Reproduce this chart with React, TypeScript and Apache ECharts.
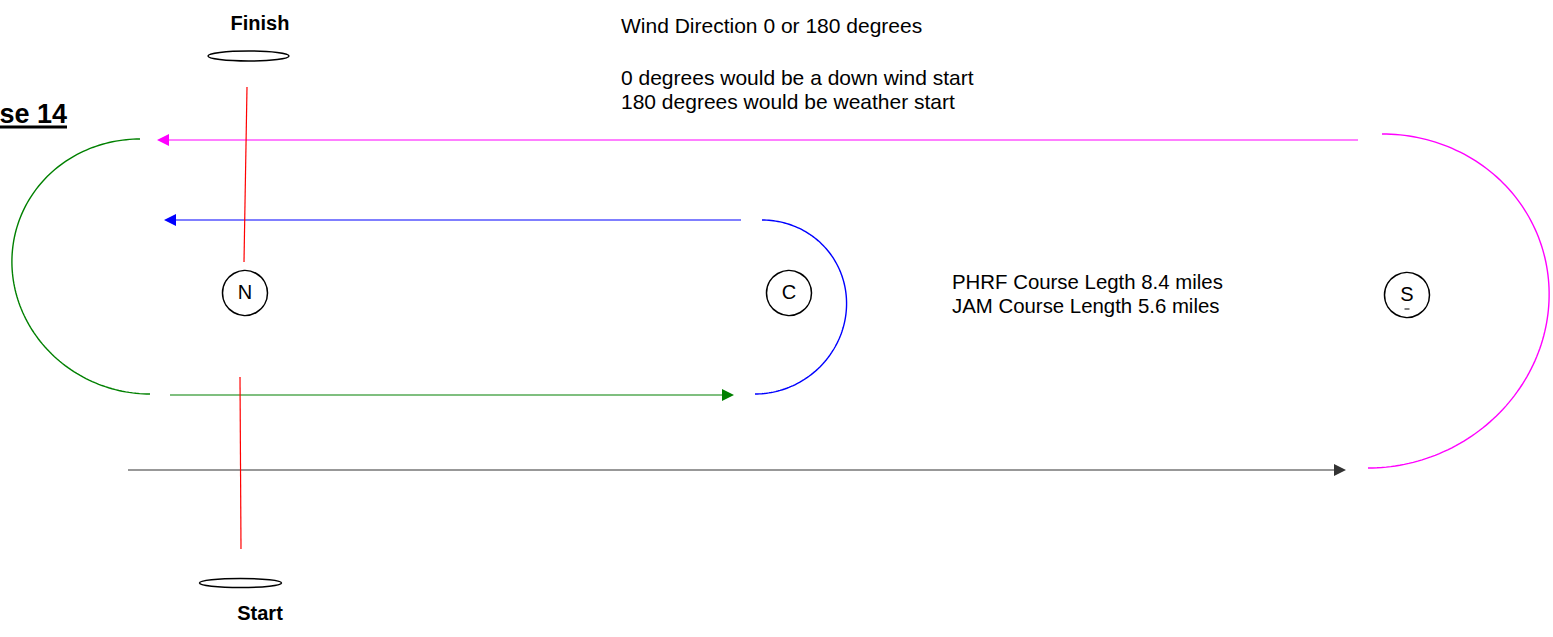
import React, { useEffect, useRef } from "react";
import * as echarts from "echarts";

const FONT = '"Liberation Sans", Arial, Helvetica, sans-serif';
const W = 1553;
const H = 637;

// ---- texts ----
const courseTitle = "se 14";
const courseTitleAnchor = [67, 114];
const windNotes = [
  "Wind Direction 0 or 180 degrees",
  "0 degrees would be a down wind start",
  "180 degrees would be weather start",
];
const windNoteAnchors = [
  [621, 25],
  [621, 77],
  [621, 101],
];
const lengthNotes = ["PHRF Course Legth 8.4 miles", "JAM Course Length 5.6 miles"];
const lengthNoteAnchors = [
  [952, 282],
  [952, 306],
];

// ---- marks (rounding buoys) ----
const markNames = ["N", "C", "S"];
const markCenters = [
  [245, 293],
  [789, 293],
  [1407, 295],
];
const markRadius = 22.5;

// ---- start / finish buoys ----
const buoyNames = ["Finish", "Start"];
const buoyCenters = [
  [248.5, 56],
  [240.5, 583],
];
const buoyRadii = [
  [40.5, 5],
  [41, 4.5],
];
const buoyLabelAnchors = [
  [260, 23],
  [260, 612.5],
];

// ---- start / finish lines (red) ----
const lineFrom = [
  [247, 87],
  [240, 377],
];
const lineTo = [
  [244, 262],
  [241, 549],
];

// ---- course legs (arrows) ----
const legFrom = [
  [1358, 140],
  [741, 220],
  [170, 395],
  [128, 470],
];
const legTo = [
  [157, 140],
  [164, 220],
  [734, 395],
  [1346, 470],
];
const legColors = ["#ff00ff", "#0000ff", "#008000", "#333333"];

// ---- roundings (half ellipses): centre, radii, span, skew ----
const arcCenters = [
  [145, 266.5],
  [758.5, 307],
  [1375, 301],
];
const arcRadii = [
  [133, 127.5],
  [88, 87],
  [174, 167],
];
const arcSpans = [
  [-90, -270],
  [-90, 90],
  [-90, 90],
];
const arcSkews = [-5, 3.5, 7];
const arcColors = ["#008000", "#0000ff", "#ff00ff"];

function buildOption(): any {
  const legSeries = {
    type: "custom",
    coordinateSystem: "cartesian2d",
    clip: false,
    silent: true,
    data: legFrom.map((f, i) => [f[0], f[1], legTo[i][0], legTo[i][1]]),
    encode: { x: [0, 2], y: [1, 3] },
    renderItem: (params: any, api: any) => {
      const color = legColors[params.dataIndex];
      const p0 = api.coord([api.value(0), api.value(1)]);
      const p1 = api.coord([api.value(2), api.value(3)]);
      const dx = p1[0] - p0[0];
      const dy = p1[1] - p0[1];
      const len = Math.sqrt(dx * dx + dy * dy);
      const ux = dx / len;
      const uy = dy / len;
      const nx = -uy;
      const ny = ux;
      const headL = 12;
      const headW = 6;
      const bx = p1[0] - ux * headL;
      const by = p1[1] - uy * headL;
      return {
        type: "group",
        children: [
          {
            type: "line",
            shape: { x1: p0[0], y1: p0[1], x2: bx + ux * 1, y2: by + uy * 1 },
            style: { stroke: color, lineWidth: 1.2 },
          },
          {
            type: "polygon",
            shape: {
              points: [
                [p1[0], p1[1]],
                [bx + nx * headW, by + ny * headW],
                [bx - nx * headW, by - ny * headW],
              ],
            },
            style: { fill: color },
          },
        ],
      };
    },
  };

  const arcSeries = {
    type: "custom",
    coordinateSystem: "cartesian2d",
    clip: false,
    silent: true,
    data: arcCenters.map((c, i) => [
      c[0],
      c[1],
      arcRadii[i][0],
      arcRadii[i][1],
      arcSpans[i][0],
      arcSpans[i][1],
      arcSkews[i],
    ]),
    encode: { x: 0, y: 1 },
    renderItem: (params: any, api: any) => {
      const cx = api.value(0);
      const cy = api.value(1);
      const rx = api.value(2);
      const ry = api.value(3);
      const a0 = api.value(4);
      const a1 = api.value(5);
      const sk = api.value(6);
      const pts: number[][] = [];
      const steps = 120;
      for (let k = 0; k <= steps; k++) {
        const a = ((a0 + ((a1 - a0) * k) / steps) * Math.PI) / 180;
        pts.push(api.coord([cx + rx * Math.cos(a) - sk * Math.sin(a), cy + ry * Math.sin(a)]));
      }
      return {
        type: "polyline",
        shape: { points: pts },
        style: { stroke: arcColors[params.dataIndex], lineWidth: 1.4, fill: "none" },
      };
    },
  };

  const redLineSeries = {
    type: "custom",
    coordinateSystem: "cartesian2d",
    clip: false,
    silent: true,
    data: lineFrom.map((f, i) => [f[0], f[1], lineTo[i][0], lineTo[i][1]]),
    encode: { x: [0, 2], y: [1, 3] },
    renderItem: (params: any, api: any) => {
      const p0 = api.coord([api.value(0), api.value(1)]);
      const p1 = api.coord([api.value(2), api.value(3)]);
      return {
        type: "line",
        shape: { x1: p0[0], y1: p0[1], x2: p1[0], y2: p1[1] },
        style: { stroke: "#ff0000", lineWidth: 1.2 },
      };
    },
  };

  const markSeries = {
    type: "custom",
    coordinateSystem: "cartesian2d",
    clip: false,
    silent: true,
    data: markCenters.map((c) => [c[0], c[1]]),
    encode: { x: 0, y: 1 },
    renderItem: (params: any, api: any) => {
      const p = api.coord([api.value(0), api.value(1)]);
      const r = api.size([markRadius, markRadius])[0];
      const name = markNames[params.dataIndex];
      const children: any[] = [
        {
          type: "circle",
          shape: { cx: p[0], cy: p[1], r },
          style: { stroke: "#000", lineWidth: 1.5, fill: "#fff" },
        },
        {
          type: "text",
          x: p[0],
          y: p[1] - 1,
          style: {
            text: name,
            fill: "#000",
            fontSize: 20,
            fontFamily: FONT,
            align: "center",
            verticalAlign: "middle",
          },
        },
      ];
      if (name === "S") {
        children.push({
          type: "line",
          shape: { x1: p[0] - 2.5, y1: p[1] + 14, x2: p[0] + 2.5, y2: p[1] + 14 },
          style: { stroke: "#000", lineWidth: 1 },
        });
      }
      return { type: "group", children };
    },
  };

  const buoySeries = {
    type: "custom",
    coordinateSystem: "cartesian2d",
    clip: false,
    silent: true,
    data: buoyCenters.map((c, i) => [c[0], c[1], buoyRadii[i][0], buoyRadii[i][1], buoyLabelAnchors[i][0], buoyLabelAnchors[i][1]]),
    encode: { x: 0, y: 1 },
    renderItem: (params: any, api: any) => {
      const p = api.coord([api.value(0), api.value(1)]);
      const s = api.size([api.value(2), api.value(3)]);
      const lp = api.coord([api.value(4), api.value(5)]);
      return {
        type: "group",
        children: [
          {
            type: "ellipse",
            shape: { cx: p[0], cy: p[1], rx: s[0], ry: s[1] },
            style: { stroke: "#000", lineWidth: 1.5, fill: "none" },
          },
          {
            type: "text",
            x: lp[0],
            y: lp[1],
            style: {
              text: buoyNames[params.dataIndex],
              fill: "#000",
              fontSize: 20,
              fontWeight: "bold",
              fontFamily: FONT,
              align: "center",
              verticalAlign: "middle",
            },
          },
        ],
      };
    },
  };

  const noteTexts = [
    ...windNotes.map((t, i) => ({ text: t, at: windNoteAnchors[i], size: 21 })),
    ...lengthNotes.map((t, i) => ({ text: t, at: lengthNoteAnchors[i], size: 20.4 })),
  ];

  const noteSeries = {
    type: "custom",
    coordinateSystem: "cartesian2d",
    clip: false,
    silent: true,
    data: noteTexts.map((n) => [n.at[0], n.at[1]]),
    encode: { x: 0, y: 1 },
    renderItem: (params: any, api: any) => {
      const p = api.coord([api.value(0), api.value(1)]);
      const n = noteTexts[params.dataIndex];
      return {
        type: "text",
        x: p[0],
        y: p[1],
        style: {
          text: n.text,
          fill: "#000",
          fontSize: n.size,
          fontFamily: FONT,
          align: "left",
          verticalAlign: "middle",
        },
      };
    },
  };

  const titleSeries = {
    type: "custom",
    coordinateSystem: "cartesian2d",
    clip: false,
    silent: true,
    data: [[courseTitleAnchor[0], courseTitleAnchor[1]]],
    encode: { x: 0, y: 1 },
    renderItem: (params: any, api: any) => {
      const p = api.coord([api.value(0), api.value(1)]);
      const fs = 27;
      const rect = (echarts as any).format && (echarts as any).format.getTextRect
        ? (echarts as any).format.getTextRect(courseTitle, `bold ${fs}px ${FONT}`)
        : { width: p[0] };
      const w = Math.max(rect.width, p[0]);
      return {
        type: "group",
        children: [
          {
            type: "text",
            x: p[0],
            y: p[1],
            style: {
              text: courseTitle,
              fill: "#000",
              fontSize: fs,
              fontWeight: "bold",
              fontFamily: FONT,
              align: "right",
              verticalAlign: "middle",
            },
          },
          {
            type: "rect",
            shape: { x: p[0] - w, y: p[1] + 11.5, width: w, height: 3 },
            style: { fill: "#000" },
          },
        ],
      };
    },
  };

  return {
    animation: false,
    backgroundColor: "#ffffff",
    grid: { left: 0, right: 0, top: 0, bottom: 0, containLabel: false },
    xAxis: { type: "value", min: 0, max: W, show: false },
    yAxis: { type: "value", min: 0, max: H, inverse: true, show: false },
    tooltip: { show: false },
    series: [titleSeries, noteSeries, arcSeries, legSeries, redLineSeries, buoySeries, markSeries],
  };
}

export default function App() {
  const ref = useRef<HTMLDivElement>(null);
  useEffect(() => {
    if (!ref.current) return;
    const chart = echarts.init(ref.current, null, { renderer: "svg" });
    chart.setOption(buildOption());
    return () => {
      chart.dispose();
    };
  }, []);
  return (
    <div
      ref={ref}
      style={{ position: "absolute", left: 0, top: 0, width: W, height: H, background: "#fff" }}
    />
  );
}
